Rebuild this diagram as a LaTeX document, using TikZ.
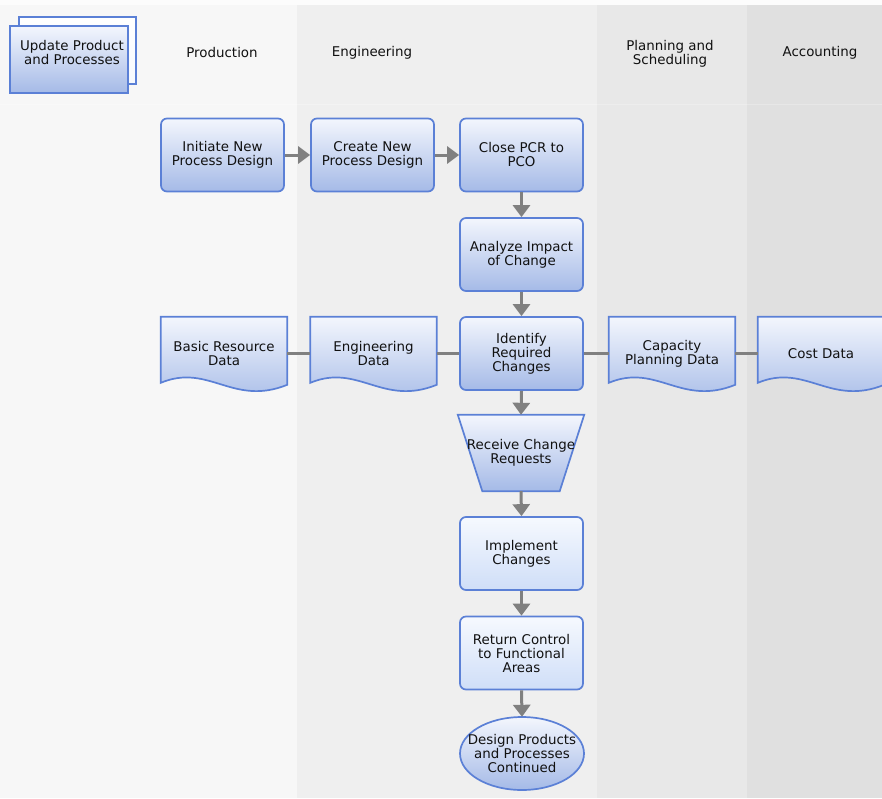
\documentclass[tikz,border=0pt]{standalone}
\usepackage{fontspec}
\setmainfont{DejaVu Sans}
\usetikzlibrary{arrows.meta,shapes.geometric,calc}
\definecolor{bgc}{HTML}{F7F7F7}
\definecolor{laneeng}{HTML}{EFEFEF}
\definecolor{laneplan}{HTML}{E8E8E8}
\definecolor{laneacc}{HTML}{E0E0E0}
\definecolor{bdr}{HTML}{5B80D6}
\definecolor{topc}{HTML}{F3F6FD}
\definecolor{botc}{HTML}{A5BAE7}
\definecolor{ltop}{HTML}{F6F9FE}
\definecolor{lbot}{HTML}{CFDEF8}
\definecolor{arr}{HTML}{808080}
\definecolor{txtc}{HTML}{111111}
\tikzset{
  txt/.style={font=\fontsize{13.4}{14}\selectfont, text=txtc, align=center, inner sep=0pt},
  procbox/.style={txt, rectangle, rounded corners=6pt, draw=bdr, line width=1.7pt,
     top color=topc, bottom color=botc, minimum width=123pt, minimum height=73pt},
  lightbox/.style={procbox, top color=ltop, bottom color=lbot},
  docnode/.style={txt, minimum width=126pt, minimum height=73pt},
  docsty/.style={draw=bdr, line width=1.7pt, top color=topc, bottom color=botc},
  hdr/.style={txt},
  flow/.style={draw=arr, line width=3pt, -{Triangle[width=17pt,length=12pt]}},
  link/.style={draw=arr, line width=2.2pt},
}
\newcommand\mydocshape[1]{%
  \path[docsty] (#1.north west) -- (#1.north east) -- ($(#1.north east)+(0,68)$)
    .. controls ($(#1.north west)+(72,90)$) and ($(#1.north west)+(48,46)$) ..
    ($(#1.north west)+(0,66)$) -- cycle;}
\begin{document}
\begin{tikzpicture}[x=1pt,y=-1pt]
\clip (0,0) rectangle (882,798);
% backgrounds
\fill[bgc] (0,0) rectangle (882,798);
\fill[white!60!bgc] (0,0) rectangle (882,5);
\fill[laneeng] (297,5) rectangle (597,798);
\fill[laneplan] (597,5) rectangle (747,798);
\fill[laneacc] (747,5) rectangle (882,798);
\draw[white, opacity=0.25, line width=1pt] (0,104.5) -- (882,104.5);
% headers
\node[hdr] (hprod) at (222,53) {Production};
\node[hdr] (heng) at (372,53) {Engineering};
\node[hdr] (hplan) at (670,53.5) {Planning and\\Scheduling};
\node[hdr] (hacc) at (820,53) {Accounting};
% stacked top-left
\path[draw=bdr, line width=1.7pt, top color=white, bottom color=ltop] (19,17) rectangle (136,84);
\node[rectangle, draw=bdr, line width=1.7pt, top color=topc, bottom color=botc,
  minimum width=118pt, minimum height=67pt, inner sep=0pt] (updf) at (69,59.5) {};
\node[txt] (upd) at (72,53) {Update Product\\and Processes};
% process nodes
\node[procbox] (ini) at (222.5,155) {Initiate New\\Process Design};
\node[procbox] (cnd) at (372.5,155) {Create New\\Process Design};
\node[procbox] (cls) at (521.5,155) {Close PCR to\\PCO};
\node[procbox] (ana) at (521.5,254.5) {Analyze Impact\\of Change};
\node[procbox] (idc) at (521.5,353.5) {Identify\\Required\\Changes};
\node[lightbox] (imp) at (521.5,553.5) {Implement\\Changes};
\node[lightbox] (ret) at (521.5,653) {Return Control\\to Functional\\Areas};
% documents
\node[docnode] (brd) at (224,353.5) {};
\mydocshape{brd}
\node[txt] at (brd) {Basic Resource\\Data};
\node[docnode] (engd) at (373.5,353.5) {};
\mydocshape{engd}
\node[txt] at (engd) {Engineering\\Data};
\node[docnode] (cpd) at (672,353.5) {};
\mydocshape{cpd}
\node[txt] at (cpd) {Capacity\\Planning Data};
\node[docnode] (cost) at (821,353.5) {};
\mydocshape{cost}
\node[txt] at (cost) {Cost Data};
% trapezoid
\node[txt, minimum width=126pt, minimum height=76pt] (rcr) at (521,453) {};
\path[docsty] (rcr.north west) -- (rcr.north east) -- ($(rcr.south east)+(-24.5,0)$)
  -- ($(rcr.south west)+(24.5,0)$) -- cycle;
\node[txt] at (rcr) {Receive Change\\Requests};
% ellipse
\node[txt, minimum width=124pt, minimum height=73pt] (dpc) at (522,753.5) {};
\path[docsty] (dpc.center) ellipse [x radius=62, y radius=36.5];
\node[txt] at (dpc) {Design Products\\and Processes\\Continued};
% connectors
\draw[flow] (ini.east) -- (cnd.west);
\draw[flow] (cnd.east) -- (cls.west);
\draw[flow] (cls.south) -- (ana.north);
\draw[flow] (ana.south) -- (idc.north);
\draw[flow] (idc.south) -- (rcr.north);
\draw[flow] (rcr.south) -- (imp.north);
\draw[flow] (imp.south) -- (ret.north);
\draw[flow] (ret.south) -- (dpc.north);
\draw[link] (brd.east) -- (engd.west);
\draw[link] (engd.east) -- (idc.west);
\draw[link] (idc.east) -- (cpd.west);
\draw[link] (cpd.east) -- (cost.west);
\end{tikzpicture}
\end{document}
